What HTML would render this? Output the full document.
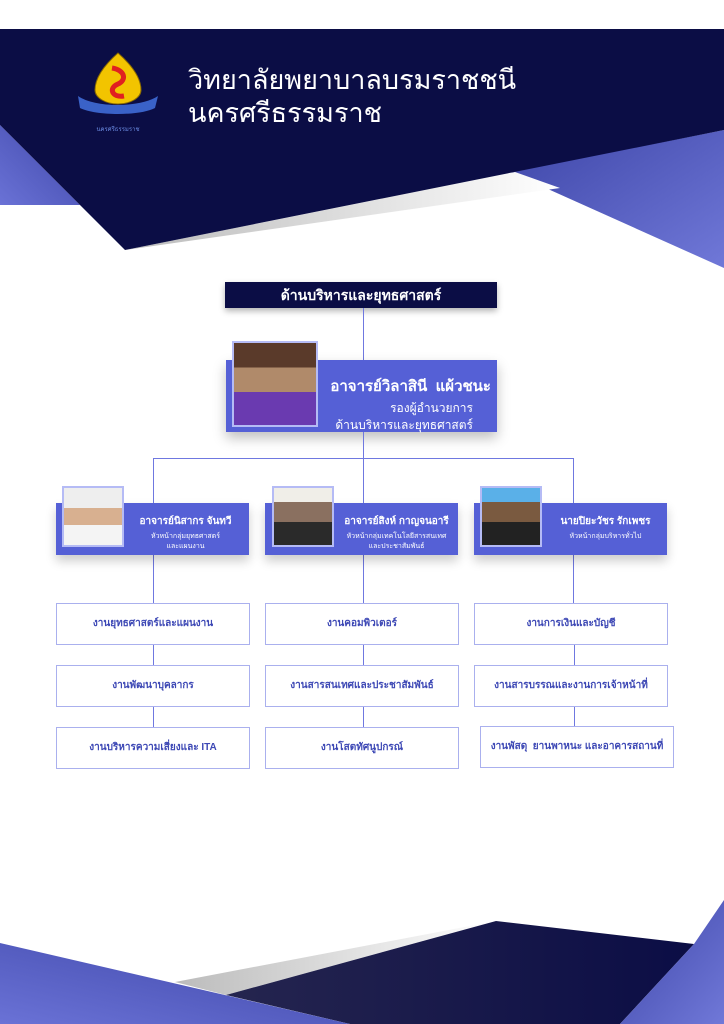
<!DOCTYPE html>
<html><head><meta charset="utf-8">
<style>
*{margin:0;padding:0;box-sizing:border-box}
body{width:724px;height:1024px;position:relative;overflow:hidden;background:#fff;font-family:"Liberation Sans","Noto Sans CJK SC",sans-serif}
.a{position:absolute}
.title{color:#fff;font-size:27px;line-height:33px;left:188px;top:64px;font-weight:300}
.hdr{left:225px;top:282px;width:272px;height:26px;background:#0b0d45;color:#fff;font-weight:bold;font-size:14px;text-align:center;line-height:26px;box-shadow:0 3px 6px rgba(0,0,0,.3)}
.ln{background:#6f78e0}
.main{left:226px;top:360px;width:271px;height:72px;background:#5560d6;box-shadow:0 6px 12px rgba(0,0,0,.25);color:#fff;text-align:right;padding-right:6px}
.ph{border:2px solid #b5bbf5;background:#8a8a9a}
.card{top:503px;width:193px;height:52px;background:#5560d6;color:#fff;box-shadow:0 6px 10px rgba(0,0,0,.2);text-align:center}
.card b{display:block;font-size:10px;margin-top:11px}
.card span{display:block;font-size:7px;line-height:10px;margin-top:3px}
.bx{width:194px;height:42px;border:1px solid #aab0ee;background:#fff;color:#3d48b5;font-weight:bold;font-size:10px;text-align:center;line-height:40px}
</style></head><body>
<svg class="a" style="left:0;top:0" width="724" height="1024">
<defs>
<linearGradient id="bl" x1="0" y1="0" x2="1" y2="1"><stop offset="0" stop-color="#3e46a8"/><stop offset="1" stop-color="#7078d8"/></linearGradient>
<linearGradient id="bl2" x1="1" y1="0" x2="0" y2="1"><stop offset="0" stop-color="#3e46a8"/><stop offset="1" stop-color="#6a72d6"/></linearGradient>
<linearGradient id="gr" x1="0" y1="0" x2="1" y2="0"><stop offset="0" stop-color="#bbb"/><stop offset="1" stop-color="#fff"/></linearGradient>
<linearGradient id="dk" x1="0" y1="0" x2="1" y2="0"><stop offset="0" stop-color="#25254f"/><stop offset="1" stop-color="#0b0d45"/></linearGradient>
</defs>
<polygon points="0,125 0,205 80,205" fill="url(#bl2)"/>
<polygon points="510,172 724,130 724,268" fill="url(#bl)"/>
<polygon points="125,250 515,172 560,188" fill="url(#gr)"/>
<polygon points="0,29 724,29 724,130 125,250 0,125" fill="#0b0d45"/>
<polygon points="175,982 496,921 226,995" fill="url(#gr)"/>
<polygon points="226,995 496,921 694,944 620,1024 350,1024" fill="url(#dk)"/>
<polygon points="0,943 350,1024 0,1024" fill="url(#bl2)"/>
<polygon points="694,944 724,900 724,1024 620,1024" fill="url(#bl)"/>
<path d="M118,53 C135,68 141,80 141,90 C141,98 130,104 118,104 C106,104 95,98 95,90 C95,80 101,68 118,53Z" fill="#f2c400" stroke="#8a6a00"/>
<path d="M112,68 C125,70 127,80 118,84 C108,88 112,98 124,96" stroke="#e02020" stroke-width="5" fill="none"/>
<path d="M78,96 C95,108 140,108 158,96 L155,108 C140,116 96,116 80,108Z" fill="#3a62c8"/>
<text x="118" y="131" font-size="6" fill="#6a8ae0" text-anchor="middle" font-family="Liberation Sans, Noto Sans CJK SC, sans-serif">นครศรีธรรมราช</text>
</svg>
<div class="a title">วิทยาลัยพยาบาลบรมราชชนี<br>นครศรีธรรมราช</div>

<div class="a hdr">ด้านบริหารและยุทธศาสตร์</div>
<div class="a ln" style="left:363px;top:308px;width:1px;height:52px"></div>
<div class="a main">
<div style="font-weight:bold;font-size:15px;margin-top:14px">อาจารย์วิลาสินี &nbsp;แผ้วชนะ</div>
<div style="font-size:12px;line-height:17px;margin-top:2px;padding-right:18px">รองผู้อำนวยการ<br>ด้านบริหารและยุทธศาสตร์</div>
</div>
<div class="a ph" style="left:232px;top:341px;width:86px;height:86px;background:linear-gradient(#5a3a2a 0 30%,#b08a6a 30% 60%,#6a3ab0 60%)"></div>
<div class="a ln" style="left:363px;top:432px;width:1px;height:26px"></div>
<div class="a ln" style="left:153px;top:458px;width:421px;height:1px"></div>
<div class="a ln" style="left:153px;top:458px;width:1px;height:146px"></div>
<div class="a ln" style="left:363px;top:458px;width:1px;height:146px"></div>
<div class="a ln" style="left:573px;top:458px;width:1px;height:146px"></div>

<div class="a card" style="left:56px;padding-left:66px"><b>อาจารย์นิสากร จันทวี</b><span>หัวหน้ากลุ่มยุทธศาสตร์<br>และแผนงาน</span></div>
<div class="a card" style="left:265px;padding-left:70px"><b>อาจารย์สิงห์ กาญจนอารี</b><span>หัวหน้ากลุ่มเทคโนโลยีสารสนเทศ<br>และประชาสัมพันธ์</span></div>
<div class="a card" style="left:474px;padding-left:70px"><b>นายปิยะวัชร รักเพชร</b><span>หัวหน้ากลุ่มบริหารทั่วไป</span></div>
<div class="a ph" style="left:62px;top:486px;width:62px;height:61px;background:linear-gradient(#eee 0 35%,#d8b090 35% 65%,#f4f4f4 65%)"></div>
<div class="a ph" style="left:272px;top:486px;width:62px;height:61px;background:linear-gradient(#f0eee8 0 25%,#8a7060 25% 60%,#2a2a2a 60%)"></div>
<div class="a ph" style="left:480px;top:486px;width:62px;height:61px;background:linear-gradient(#5ab0e8 0 25%,#7a5a40 25% 60%,#222 60%)"></div>

<div class="a ln" style="left:153px;top:645px;width:1px;height:82px"></div>
<div class="a ln" style="left:363px;top:645px;width:1px;height:82px"></div>
<div class="a ln" style="left:574px;top:645px;width:1px;height:82px"></div>

<div class="a bx" style="left:56px;top:603px">งานยุทธศาสตร์และแผนงาน</div>
<div class="a bx" style="left:56px;top:665px">งานพัฒนาบุคลากร</div>
<div class="a bx" style="left:56px;top:727px">งานบริหารความเสี่ยงและ ITA</div>
<div class="a bx" style="left:265px;top:603px">งานคอมพิวเตอร์</div>
<div class="a bx" style="left:265px;top:665px">งานสารสนเทศและประชาสัมพันธ์</div>
<div class="a bx" style="left:265px;top:727px">งานโสตทัศนูปกรณ์</div>
<div class="a bx" style="left:474px;top:603px">งานการเงินและบัญชี</div>
<div class="a bx" style="left:474px;top:665px">งานสารบรรณและงานการเจ้าหน้าที่</div>
<div class="a bx" style="left:480px;top:726px">งานพัสดุ &nbsp;ยานพาหนะ และอาคารสถานที่</div>
</body></html>
